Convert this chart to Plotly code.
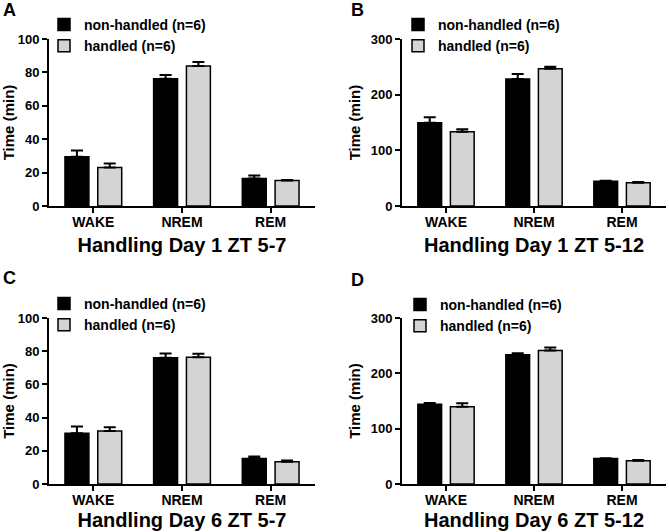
import plotly.graph_objects as go

categories = ["WAKE", "NREM", "REM"]
series_names = ["non-handled (n=6)", "handled (n=6)"]

A_nh = [29.5, 76.2, 16.4]
A_nh_err = [3.8, 2.2, 1.8]
A_h = [23.0, 83.8, 15.2]
A_h_err = [2.5, 2.4, 0.4]

B_nh = [149.7, 228.0, 44.3]
B_nh_err = [9.6, 9.0, 1.2]
B_h = [133.5, 246.7, 41.9]
B_h_err = [4.2, 3.6, 1.1]

C_nh = [30.6, 76.0, 15.4]
C_nh_err = [4.0, 2.6, 1.2]
C_h = [32.0, 76.4, 13.4]
C_h_err = [2.2, 2.0, 0.8]

D_nh = [144.0, 233.4, 46.2]
D_nh_err = [2.4, 3.0, 0.5]
D_h = [139.8, 241.2, 42.0]
D_h_err = [6.0, 5.4, 1.2]

panel_letters = ["A", "B", "C", "D"]
panel_titles = ["Handling Day 1 ZT 5-7", "Handling Day 1 ZT 5-12",
                "Handling Day 6 ZT 5-7", "Handling Day 6 ZT 5-12"]
y_max = [100, 300, 100, 300]
y_dtick = [20, 100, 20, 100]

panels = [
    (A_nh, A_nh_err, A_h, A_h_err),
    (B_nh, B_nh_err, B_h, B_h_err),
    (C_nh, C_nh_err, C_h, C_h_err),
    (D_nh, D_nh_err, D_h, D_h_err),
]

W, H = 669, 532
FONT = "Liberation Sans"
colors = ["#000000", "#d4d4d4"]

# pixel layout of each plot area: (left, right, top, bottom)
boxes = [(49, 315, 39, 206), (402, 666, 39, 206),
         (49, 315, 318, 484), (402, 666, 318, 484)]
legend_pos = [(44, 9), (398, 9), (44, 288), (400, 289)]
letter_pos = [(9, 10), (357, 10), (9, 278), (358, 280)]
title_standoff = [9, 9, 6, 6]

fig = go.Figure()
for i, (nh, nh_e, h, h_e) in enumerate(panels):
    ax = "" if i == 0 else str(i + 1)
    leg = "legend" if i == 0 else "legend" + str(i + 1)
    for j, (vals, errs) in enumerate([(nh, nh_e), (h, h_e)]):
        fig.add_trace(go.Bar(
            x=categories, y=vals, name=series_names[j],
            marker=dict(color=colors[j], line=dict(color="black", width=1.5)),
            error_y=dict(type="data", array=errs, arrayminus=[0] * len(errs),
                         symmetric=False, color="black", thickness=2, width=6),
            xaxis="x" + ax, yaxis="y" + ax, legend=leg, offsetgroup=str(j),
        ))

layout = dict(
    width=W, height=H, margin=dict(l=0, r=0, t=0, b=0),
    paper_bgcolor="white", plot_bgcolor="white",
    barmode="group", bargap=0.26, bargroupgap=0.27,
    font=dict(family=FONT, color="black", size=13, weight="bold"),
    annotations=[],
)
for i in range(4):
    ax = "" if i == 0 else str(i + 1)
    l, r, t, b = boxes[i]
    layout["xaxis" + ax] = dict(
        domain=[l / W, r / W], anchor="y" + ax, range=[-0.5, 2.5],
        showline=True, linecolor="black", linewidth=2, ticks="outside",
        ticklen=5, tickwidth=2, tickcolor="black", showgrid=False,
        ticklabelstandoff=-3,
        tickfont=dict(size=14, family=FONT, weight="bold"),
        title=dict(text=panel_titles[i], standoff=title_standoff[i],
                   font=dict(size=20, family=FONT, weight="bold")),
        automargin=False, fixedrange=True,
    )
    layout["yaxis" + ax] = dict(
        domain=[1 - b / H, 1 - t / H], anchor="x" + ax, range=[0, y_max[i]],
        dtick=y_dtick[i], showline=True, linecolor="black", linewidth=2,
        ticks="outside", ticklen=5, tickwidth=2, tickcolor="black",
        showgrid=False, zeroline=False,
        tickfont=dict(size=13, family=FONT, weight="bold"),
        title=dict(text="Time (min)", standoff=6,
                   font=dict(size=15, family=FONT, weight="bold")),
        automargin=False, fixedrange=True,
    )
    lx, ly = legend_pos[i]
    layout["legend" if i == 0 else "legend" + str(i + 1)] = dict(
        x=lx / W, y=1 - ly / H, xanchor="left", yanchor="top",
        bgcolor="rgba(0,0,0,0)", tracegroupgap=0,
        font=dict(size=14, family=FONT, weight="bold"),
        traceorder="normal",
    )
    px, py = letter_pos[i]
    layout["annotations"].append(dict(
        text=panel_letters[i], x=px / W, y=1 - py / H, xref="paper", yref="paper",
        showarrow=False, font=dict(size=18, family=FONT, weight="bold"),
        xanchor="center", yanchor="middle",
    ))

fig.update_layout(**layout)
fig.write_html("out.html", config={"displayModeBar": False},
               post_script="document.body.style.margin='0';document.body.style.overflow='hidden';")
